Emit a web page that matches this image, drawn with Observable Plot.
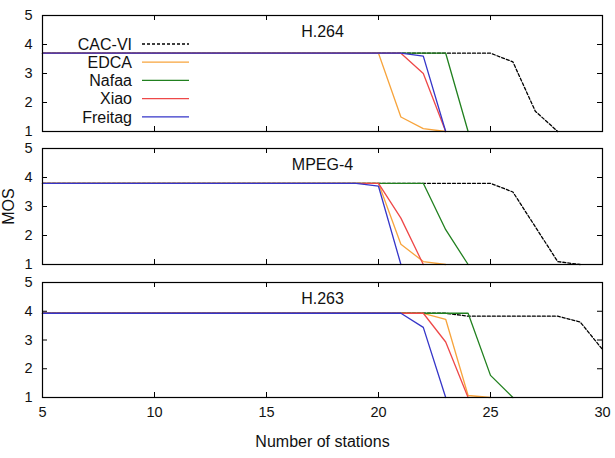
<!DOCTYPE html>
<html>
<head>
<meta charset="utf-8">
<script src="https://cdn.jsdelivr.net/npm/d3@7"></script>
<script src="https://cdn.jsdelivr.net/npm/@observablehq/plot@0.6"></script>
<style>
  body { margin: 0; background: #fff; }
  #chart { position: relative; width: 615px; height: 458px; background: #fff; }
  #chart > div { position: absolute; left: 0; }
</style>
</head>
<body>
<div id="chart"></div>
<script>
// Number of stations (x) and the tick values of both axes
const stations = [5, 6, 7, 8, 9, 10, 11, 12, 13, 14, 15, 16, 17, 18, 19, 20, 21, 22, 23, 24, 25, 26, 27, 28, 29, 30];
const xTicks = [5, 10, 15, 20, 25, 30];
const yTicks = [1, 2, 3, 4, 5];

const codecs = ["H.264", "MPEG-4", "H.263"];
const schemes = ["CAC-VI", "EDCA", "Nafaa", "Xiao", "Freitag"];
const schemeColors = ["#000000", "#f7a43c", "#21801f", "#ee4848", "#3535c8"];

// MOS per scheme, one value per station count (null = no more samples)
const h264CacVi = [3.7, 3.7, 3.7, 3.7, 3.7,  3.7, 3.7, 3.7, 3.7, 3.7,  3.7, 3.7, 3.7, 3.7, 3.7,  3.7, 3.7, 3.7, 3.7, 3.7,  3.7, 3.4, 1.7, 1.0, null,  null];
const h264Edca  = [3.7, 3.7, 3.7, 3.7, 3.7,  3.7, 3.7, 3.7, 3.7, 3.7,  3.7, 3.7, 3.7, 3.7, 3.7,  3.7, 1.5, 1.1, 1.0, null,  null, null, null, null, null,  null];
const h264Nafaa = [3.7, 3.7, 3.7, 3.7, 3.7,  3.7, 3.7, 3.7, 3.7, 3.7,  3.7, 3.7, 3.7, 3.7, 3.7,  3.7, 3.7, 3.7, 3.7, 1.0,  null, null, null, null, null,  null];
const h264Xiao  = [3.7, 3.7, 3.7, 3.7, 3.7,  3.7, 3.7, 3.7, 3.7, 3.7,  3.7, 3.7, 3.7, 3.7, 3.7,  3.7, 3.7, 3.0, 1.0, null,  null, null, null, null, null,  null];
const h264Freitag = [3.7, 3.7, 3.7, 3.7, 3.7,  3.7, 3.7, 3.7, 3.7, 3.7,  3.7, 3.7, 3.7, 3.7, 3.7,  3.7, 3.7, 3.6, 1.0, null,  null, null, null, null, null,  null];

const mpeg4CacVi = [3.8, 3.8, 3.8, 3.8, 3.8,  3.8, 3.8, 3.8, 3.8, 3.8,  3.8, 3.8, 3.8, 3.8, 3.8,  3.8, 3.8, 3.8, 3.8, 3.8,  3.8, 3.5, 2.3, 1.1, 1.0,  null];
const mpeg4Edca  = [3.8, 3.8, 3.8, 3.8, 3.8,  3.8, 3.8, 3.8, 3.8, 3.8,  3.8, 3.8, 3.8, 3.8, 3.8,  3.8, 1.7, 1.1, 1.0, null,  null, null, null, null, null,  null];
const mpeg4Nafaa = [3.8, 3.8, 3.8, 3.8, 3.8,  3.8, 3.8, 3.8, 3.8, 3.8,  3.8, 3.8, 3.8, 3.8, 3.8,  3.8, 3.8, 3.8, 2.2, 1.0,  null, null, null, null, null,  null];
const mpeg4Xiao  = [3.8, 3.8, 3.8, 3.8, 3.8,  3.8, 3.8, 3.8, 3.8, 3.8,  3.8, 3.8, 3.8, 3.8, 3.8,  3.8, 2.6, 1.0, null, null,  null, null, null, null, null,  null];
const mpeg4Freitag = [3.8, 3.8, 3.8, 3.8, 3.8,  3.8, 3.8, 3.8, 3.8, 3.8,  3.8, 3.8, 3.8, 3.8, 3.8,  3.7, 1.0, null, null, null,  null, null, null, null, null,  null];

const h263CacVi = [3.93, 3.93, 3.93, 3.93, 3.93,  3.93, 3.93, 3.93, 3.93, 3.93,  3.93, 3.93, 3.93, 3.93, 3.93,  3.93, 3.93, 3.93, 3.93, 3.83,  3.83, 3.83, 3.83, 3.83, 3.63,  2.67];
const h263Edca  = [3.93, 3.93, 3.93, 3.93, 3.93,  3.93, 3.93, 3.93, 3.93, 3.93,  3.93, 3.93, 3.93, 3.93, 3.93,  3.93, 3.93, 3.93, 3.72, 1.07,  1.0, null, null, null, null,  null];
const h263Nafaa = [3.93, 3.93, 3.93, 3.93, 3.93,  3.93, 3.93, 3.93, 3.93, 3.93,  3.93, 3.93, 3.93, 3.93, 3.93,  3.93, 3.93, 3.93, 3.93, 3.93,  1.77, 1.0, null, null, null,  null];
const h263Xiao  = [3.93, 3.93, 3.93, 3.93, 3.93,  3.93, 3.93, 3.93, 3.93, 3.93,  3.93, 3.93, 3.93, 3.93, 3.93,  3.93, 3.93, 3.93, 2.93, 1.0,  null, null, null, null, null,  null];
const h263Freitag = [3.93, 3.93, 3.93, 3.93, 3.93,  3.93, 3.93, 3.93, 3.93, 3.93,  3.93, 3.93, 3.93, 3.93, 3.93,  3.93, 3.93, 3.44, 1.0, null,  null, null, null, null, null,  null];

const mosByCodec = {
  "H.264": [h264CacVi, h264Edca, h264Nafaa, h264Xiao, h264Freitag],
  "MPEG-4": [mpeg4CacVi, mpeg4Edca, mpeg4Nafaa, mpeg4Xiao, mpeg4Freitag],
  "H.263": [h263CacVi, h263Edca, h263Nafaa, h263Xiao, h263Freitag]
};

// Vertical placement of the three stacked panels
const panels = [
  {top: 0,   height: 140, marginTop: 15, marginBottom: 9},
  {top: 140, height: 133, marginTop: 8,  marginBottom: 9},
  {top: 273, height: 185, marginTop: 9,  marginBottom: 61}
];
const W = 615, ML = 42, MR = 13;
const innerW = W - ML - MR;
const font = "'Liberation Sans', Arial, Helvetica, sans-serif";

// Legend (key) drawn in the top panel
function legend(index, scales, values, dims) {
  const g = d3.create("svg:g").attr("font-family", font).attr("font-size", 16);
  schemes.forEach((name, i) => {
    const y = dims.marginTop + 29 + i * 18.2;
    g.append("text")
      .attr("x", dims.marginLeft + 90).attr("y", y).attr("dy", "0.36em")
      .attr("text-anchor", "end").attr("fill", "#111").text(name);
    g.append("line")
      .attr("x1", dims.marginLeft + 100).attr("x2", dims.marginLeft + 147)
      .attr("y1", y).attr("y2", y)
      .attr("stroke", schemeColors[i]).attr("stroke-width", 1.3)
      .attr("stroke-dasharray", i === 0 ? "3,2" : null);
  });
  return g.node();
}

const chart = document.getElementById("chart");

codecs.forEach((codec, p) => {
  const geo = panels[p];
  const innerH = geo.height - geo.marginTop - geo.marginBottom;
  const series = mosByCodec[codec];
  const isLast = p === codecs.length - 1;

  const marks = [];
  // one line per scheme, drawn in key order
  series.forEach((vals, s) => {
    const rows = stations.map((x, i) => ({x, mos: vals[i]}));
    marks.push(Plot.line(rows, {
      x: "x", y: "mos",
      stroke: schemeColors[s], strokeWidth: 1.3,
      strokeDasharray: s === 0 ? "3,2" : null
    }));
  });
  // panel title
  marks.push(Plot.text([codec], {
    text: d => d, frameAnchor: "top", lineAnchor: "middle", dy: 16.5,
    fontSize: 16, fill: "#111", fontFamily: font
  }));
  // inward tick marks on all four sides
  marks.push(Plot.tickX(xTicks, {x: d => d, insetTop: innerH - 5, stroke: "#000"}));
  marks.push(Plot.tickX(xTicks, {x: d => d, insetBottom: innerH - 5, stroke: "#000"}));
  marks.push(Plot.tickY(yTicks, {y: d => d, insetRight: innerW - 5, stroke: "#000"}));
  marks.push(Plot.tickY(yTicks, {y: d => d, insetLeft: innerW - 5, stroke: "#000"}));
  // tick labels
  marks.push(Plot.axisY(yTicks, {
    anchor: "left", tickSize: 0, tickPadding: 10, fontSize: 14.5,
    label: null
  }));
  if (p === 1) {
    marks.push(Plot.axisY([], {
      anchor: "left", tickSize: 0, fontSize: 16,
      label: "MOS", labelAnchor: "center", labelOffset: 40, labelArrow: "none"
    }));
  }
  if (isLast) {
    marks.push(Plot.axisX(xTicks, {
      anchor: "bottom", tickSize: 0, tickPadding: 9, fontSize: 14.5,
      label: null
    }));
    marks.push(Plot.axisX([], {
      anchor: "bottom", tickSize: 0, fontSize: 16,
      label: "Number of stations", labelAnchor: "center", labelOffset: 49, labelArrow: "none"
    }));
  }
  marks.push(Plot.frame({stroke: "#000", strokeWidth: 1.2}));
  if (p === 0) marks.push(legend);

  const svg = Plot.plot({
    width: W,
    height: geo.height,
    marginLeft: ML,
    marginRight: MR,
    marginTop: geo.marginTop,
    marginBottom: geo.marginBottom,
    style: {fontFamily: font, fontSize: "14.5px", color: "#111", background: "transparent", overflow: "visible"},
    x: {domain: [5, 30], axis: null},
    y: {domain: [1, 5], axis: null},
    marks
  });
  const holder = document.createElement("div");
  holder.style.top = geo.top + "px";
  holder.appendChild(svg);
  chart.appendChild(holder);
});
</script>
</body>
</html>
